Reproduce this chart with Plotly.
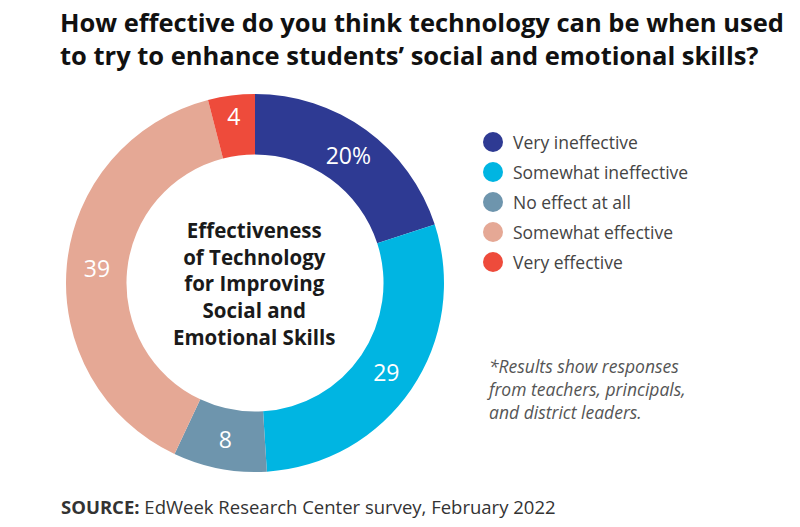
import plotly.graph_objects as go

# survey answers, clockwise from 12 o'clock
categories = ["Very ineffective", "Somewhat ineffective", "No effect at all",
              "Somewhat effective", "Very effective"]
values = [20, 29, 8, 39, 4]
slice_labels = ["20%", "29", "8", "39", "4"]
colors = ["#2E3A93", "#00B5E2", "#6E95AD", "#E5A895", "#EE4B3B"]

title_lines = ["How effective do you think technology can be when used",
               "to try to enhance students\u2019 social and emotional skills?"]
center_lines = ["Effectiveness", "of Technology", "for Improving",
                "Social and", "Emotional Skills"]
note_lines = ["*Results show responses", "from teachers, principals,",
              "and district leaders."]
source_text = "<b>SOURCE:</b> EdWeek Research Center survey, February 2022"

W, H = 800, 527
FONT = "Open Sans"
CX, CY, R = 255, 283, 189   # donut centre / radius in px


def px(x, y):
    return x / W, 1 - y / H


fig = go.Figure()
fig.add_trace(go.Pie(
    labels=categories, values=values, text=slice_labels,
    texttemplate="%{text}", textinfo="text",
    sort=False, direction="clockwise", rotation=0,
    hole=0.68,
    marker=dict(colors=colors, line=dict(width=0)),
    textposition="inside", insidetextorientation="horizontal",
    textfont=dict(family=FONT, size=23, color="white"),
    domain=dict(x=[(CX - R) / W, (CX + R) / W],
                y=[(H - CY - R) / H, (H - CY + R) / H]),
    showlegend=False, hoverinfo="label+value",
))

ann = []
# title
x, y = px(58, 3)
ann.append(dict(text="<br>".join("<b>%s</b>" % t for t in title_lines), x=x, y=y,
                xref="paper", yref="paper", xanchor="left", yanchor="top",
                align="left", showarrow=False,
                font=dict(family=FONT, size=25.5, color="#111111")))
# centre label
x, y = px(CX, 283)
ann.append(dict(text="<br>".join("<b>%s</b>" % t for t in center_lines),
                x=x, y=y, xref="paper", yref="paper",
                xanchor="center", yanchor="middle",
                showarrow=False, align="center",
                font=dict(family=FONT, size=20.5, color="#1a1a1a")))

# legend built from the category list
shapes = []
for i, (cat, col) in enumerate(zip(categories, colors)):
    yc = 142 + i * 30
    x0, y0 = px(483, yc + 10)
    x1, y1 = px(503, yc - 10)
    shapes.append(dict(type="circle", xref="paper", yref="paper",
                       x0=x0, x1=x1, y0=y0, y1=y1,
                       fillcolor=col, line=dict(width=0)))
    x, y = px(511, yc)
    ann.append(dict(text=cat, x=x, y=y, xref="paper", yref="paper",
                    xanchor="left", yanchor="middle", showarrow=False,
                    font=dict(family=FONT, size=17.5, color="#444444")))

# footnote
x, y = px(485, 352)
ann.append(dict(text="<br>".join("<i>%s</i>" % t for t in note_lines),
                x=x, y=y, xref="paper", yref="paper",
                xanchor="left", yanchor="top", align="left", showarrow=False,
                font=dict(family=FONT, size=17.5, color="#555555")))
# source
x, y = px(59, 506)
ann.append(dict(text=source_text, x=x, y=y, xref="paper", yref="paper",
                xanchor="left", yanchor="middle", showarrow=False,
                font=dict(family=FONT, size=18.5, color="#333333")))

fig.update_layout(
    width=W, height=H,
    margin=dict(l=0, r=0, t=0, b=0),
    paper_bgcolor="white", plot_bgcolor="white",
    annotations=ann, shapes=shapes,
)

# drop the default 8px page margin so the figure sits at the window corner
fig.write_html("out.html", config={"displayModeBar": False},
               post_script="document.body.style.margin='0';")
